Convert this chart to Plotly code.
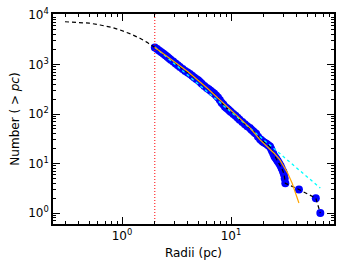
import plotly.graph_objects as go

# Observed cumulative counts (blue points)
data_r = [2.0, 2.1, 2.2, 2.3, 2.4, 2.5, 2.6, 2.7, 2.8, 2.95, 3.1, 3.25, 3.4, 3.6, 3.8, 4.0, 4.2,
          4.4, 4.6, 4.8, 5.0, 5.2, 5.4, 5.7, 6.0, 6.25, 6.5, 6.75, 7.0, 7.3, 7.6, 7.9,
          8.2, 8.5, 8.8, 9.1, 9.4, 9.7, 10.0, 10.5, 11.0, 11.5, 12.0, 12.7, 13.4, 14.1,
          14.9, 15.4, 16.0, 16.5, 17.0, 17.7, 18.5, 19.0, 19.5, 20.0, 20.5, 21.1,
          21.7, 22.2, 22.8, 23.3, 23.8, 24.4, 25.0, 25.5, 26.0, 26.5, 27.0, 27.7,
          28.5, 29.2, 30.0, 30.4, 30.7, 31.1, 31.5, 42.0, 60.0, 66.0]
data_n = [2200, 2050, 1900, 1770, 1650, 1530, 1430, 1340, 1250, 1150, 1050, 970, 890, 810, 740, 690, 640,
          590, 550, 510, 480, 445, 410, 370, 335, 315, 295, 277, 260, 237, 215, 192,
          170, 155, 140, 132, 125, 117, 110, 100, 92, 84, 77, 69, 62, 57,
          52, 48, 45, 42, 40, 35, 31, 29.5, 28, 27, 26, 25,
          24, 23, 22, 20, 18, 16, 14, 13.2, 12.5, 11.7, 11, 10,
          9, 8, 7, 6.5, 6, 5, 4, 3, 2, 1]

# Profile model below the 2 pc cut (black dashed)
prof_r = [0.3, 0.41, 0.5, 0.63, 0.8, 0.96, 1.2, 1.46, 1.7]
prof_n = [7300, 7120, 6850, 6280, 5650, 4980, 4150, 3380, 2800]

# Power-law fit (cyan dashed)
pl_r = [2.0, 66.0]
pl_n = [2250, 3.2]

# Truncated fit (orange)
tr_r = [2, 3, 4, 6, 8, 10, 12, 15, 18.5, 22, 25, 28, 30, 33, 36.4, 39, 42]
tr_n = [2200, 1150, 720, 340, 190, 120, 85, 52, 30, 21, 16, 12, 9.5, 6.5, 4, 2.6, 1.6]

r_cut = 2.0

x_ticks = [1, 10]
x_text = ["10<sup>0</sup>", "10<sup>1</sup>"]
y_ticks = [1, 10, 100, 1000, 10000]
y_text = ["10<sup>0</sup>", "10<sup>1</sup>", "10<sup>2</sup>", "10<sup>3</sup>", "10<sup>4</sup>"]

fig = go.Figure()
fig.add_trace(go.Scatter(x=data_r, y=data_n, mode="markers",
                         marker=dict(color="#0000ff", size=8, line=dict(width=0)),
                         showlegend=False))
fig.add_trace(go.Scatter(x=prof_r + data_r, y=prof_n + data_n, mode="lines",
                         line=dict(color="black", width=1.2, dash="4px,3px"), showlegend=False))
fig.add_trace(go.Scatter(x=pl_r, y=pl_n, mode="lines",
                         line=dict(color="cyan", width=1.3, dash="3px,3px"), showlegend=False))
fig.add_trace(go.Scatter(x=tr_r, y=tr_n, mode="lines",
                         line=dict(color="orange", width=1.2), showlegend=False))
fig.add_trace(go.Scatter(x=[r_cut, r_cut], y=[0.5, 20000], mode="lines",
                         line=dict(color="red", width=1, dash="1px,2px"), showlegend=False))

minor_x = [m * 10 ** d for d in range(-1, 2) for m in range(2, 10)]
minor_y = [m * 10 ** d for d in range(-1, 4) for m in range(2, 10)]

axis_common = dict(showgrid=False, zeroline=False, showline=True, linecolor="black",
                   linewidth=1.5, mirror="ticks", ticks="inside", ticklen=7, tickwidth=1.2,
                   tickcolor="black", automargin=False,
                   tickfont=dict(family="DejaVu Sans", size=12, color="black"))

fig.update_xaxes(type="log", range=[-0.633, 1.945], tickvals=x_ticks, ticktext=x_text,
                 minor=dict(tickvals=minor_x, ticks="inside", ticklen=3.5, tickwidth=1, tickcolor="black"),
                 title=dict(text="Radii (pc)", font=dict(family="DejaVu Sans", size=12, color="black"),
                            standoff=6),
                 **axis_common)
fig.update_yaxes(type="log", range=[-0.22, 4.02], tickvals=y_ticks, ticktext=y_text,
                 minor=dict(tickvals=minor_y, ticks="inside", ticklen=3.5, tickwidth=1, tickcolor="black"),
                 title=dict(text="Number ( > <i>pc</i>)", font=dict(family="DejaVu Sans", size=12, color="black"),
                            standoff=6),
                 **axis_common)

fig.update_layout(width=352, height=264, margin=dict(l=53, r=18, t=14, b=40),
                  plot_bgcolor="white", paper_bgcolor="white")

fig.write_html("out.html", config={"displayModeBar": False},
               post_script="document.body.style.margin='0';")
